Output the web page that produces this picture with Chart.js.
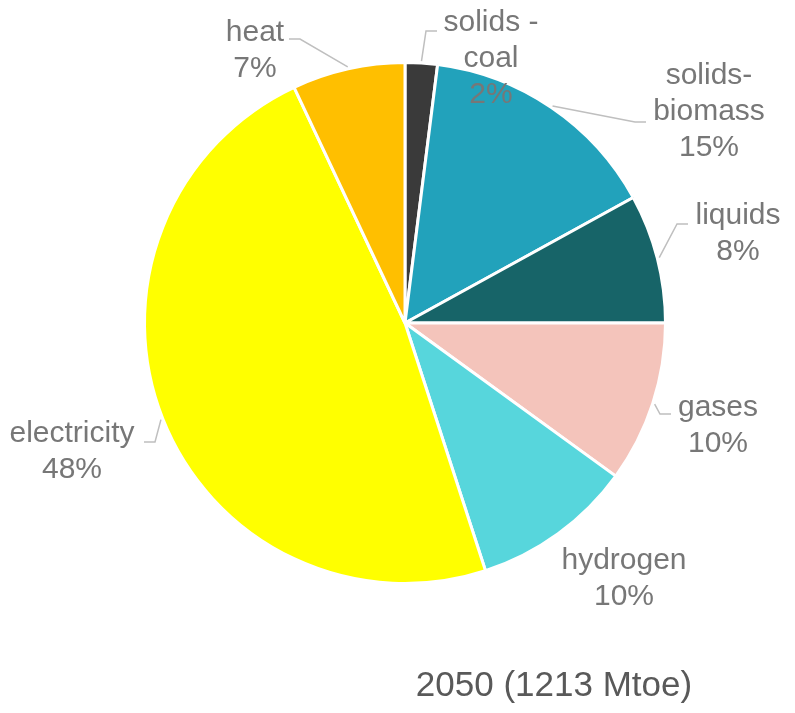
<!DOCTYPE html>
<html>
<head>
<meta charset="utf-8">
<script src="https://cdn.jsdelivr.net/npm/chart.js@4.4.1/dist/chart.umd.min.js"></script>
<style>
  html, body { margin: 0; padding: 0; background: #fff; }
  #wrap { width: 795px; height: 713px; }
</style>
</head>
<body>
<div id="wrap"><canvas id="pie"></canvas></div>
<script>
// データ（2050年、%）
const categories = ['solids - coal', 'solids-biomass', 'liquids', 'gases', 'hydrogen', 'electricity', 'heat'];
const shares = [2, 15, 8, 10, 10, 48, 7];
const labelLines = [['solids -', 'coal'], ['solids-', 'biomass'], ['liquids'], ['gases'], ['hydrogen'], ['electricity'], ['heat']];
const sliceColors = ['#3a3a3a', '#22a2bb', '#176468', '#f4c4bb', '#57d6dc', '#ffff00', '#ffbf00'];
const chartTitle = '2050 (1213 Mtoe)';

// ラベル位置（中心からのオフセット）と引き出し線
const labelPlace = [
    { dx: 86, dy: -292, elbow: [21, -292], line: true },
    { dx: 304, dy: -239, elbow: [230, -201], line: true },
    { dx: 333, dy: -99, elbow: [272, -99], line: true },
    { dx: 313, dy: 93, elbow: [255, 91], line: true },
    { dx: 219, dy: 246, line: false },
    { dx: -333, dy: 119, elbow: [-250, 119], line: true },
    { dx: -150, dy: -282, elbow: [-105, -284], line: true }
];

const labelPlugin = {
    id: 'sliceLabels',
    afterDatasetsDraw(chart) {
        const ctx = chart.ctx;
        const meta = chart.getDatasetMeta(0);
        const lh = 36;
        ctx.save();
        meta.data.forEach((arc, i) => {
            const p = arc.getProps(['x', 'y', 'startAngle', 'endAngle', 'outerRadius'], true);
            const mid = (p.startAngle + p.endAngle) / 2;
            const place = labelPlace[i];
            const lines = labelLines[i].concat([shares[i] + '%']);
            const tx = p.x + place.dx;
            const firstBase = p.y + place.dy;
            if (place.line) {
                const r = p.outerRadius + 2;
                ctx.strokeStyle = '#bfbfbf';
                ctx.lineWidth = 1.5;
                ctx.beginPath();
                ctx.moveTo(p.x + Math.cos(mid) * r, p.y + Math.sin(mid) * r);
                const ex = p.x + place.elbow[0], ey = p.y + place.elbow[1];
                ctx.lineTo(ex, ey);
                ctx.lineTo(ex + (place.dx > 0 ? 11 : -11), ey);
                ctx.stroke();
            }
            ctx.fillStyle = '#777777';
            ctx.font = '30px "Liberation Sans", Arial, sans-serif';
            ctx.textAlign = 'center';
            ctx.textBaseline = 'alphabetic';
            lines.forEach((t, k) => ctx.fillText(t, tx, firstBase + k * lh));
        });
        // タイトル
        ctx.fillStyle = '#595959';
        ctx.font = '35px "Liberation Sans", Arial, sans-serif';
        ctx.textAlign = 'center';
        ctx.fillText(chartTitle, chart.chartArea.right - 113, 696);
        ctx.restore();
    }
};

const ctx = document.getElementById('pie').getContext('2d');
new Chart(ctx, {
    type: 'pie',
    data: {
        labels: categories,
        datasets: [{
            data: shares,
            backgroundColor: sliceColors,
            borderColor: '#ffffff',
            borderWidth: 3
        }]
    },
    options: {
        responsive: true,
        maintainAspectRatio: false,
        animation: false,
        layout: { padding: { left: 143, right: 128, top: 61, bottom: 128 } },
        plugins: {
            legend: { display: false },
            tooltip: { enabled: false }
        }
    },
    plugins: [labelPlugin]
});
</script>
</body>
</html>
